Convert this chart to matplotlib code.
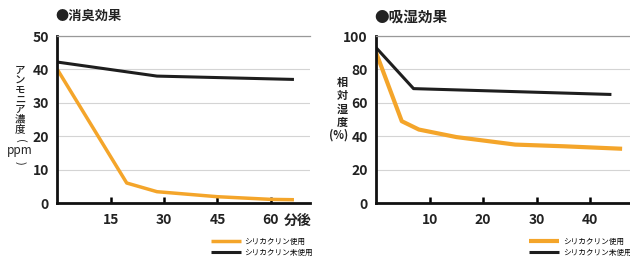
import matplotlib
matplotlib.use("Agg")
import matplotlib.pyplot as plt

plt.rcParams['font.family'] = ['Noto Sans CJK JP', 'DejaVu Sans']

# odor test (ammonia ppm vs minutes)
odor_t_used = [0, 19.5, 28, 45, 60, 66.5]
odor_used = [40, 6, 3.4, 1.9, 1.1, 1.0]
odor_t_unused = [0, 28, 66.5]
odor_unused = [42.2, 38, 37]
odor_xticks = [15, 30, 45, 60]
odor_yticks = [0, 10, 20, 30, 40, 50]

# humidity test (relative humidity % vs minutes)
hum_t_used = [0, 4.8, 8, 15, 26, 35, 46]
hum_used = [90, 49, 44, 39.5, 35, 34, 32.5]
hum_t_unused = [0, 7, 44]
hum_unused = [93, 68.5, 65]
hum_xticks = [10, 20, 30, 40]
hum_yticks = [0, 20, 40, 60, 80, 100]

label_used = 'シリカクリン使用'
label_unused = 'シリカクリン未使用'
orange = '#f4a52a'
black = '#1e1e1e'

fig = plt.figure(figsize=(6.3, 2.59), dpi=100)
ax1 = fig.add_axes([0.091, 0.216, 0.401, 0.645])
ax2 = fig.add_axes([0.597, 0.216, 0.41, 0.645])


def style(ax, xticks, yticks):
    ax.spines['right'].set_visible(False)
    ax.spines['top'].set_color('#999999')
    ax.spines['top'].set_linewidth(0.9)
    for s in ['left', 'bottom']:
        ax.spines[s].set_linewidth(2)
        ax.spines[s].set_color('#111111')
    ax.set_xticks(xticks)
    ax.set_yticks(yticks)
    ax.tick_params(axis='x', direction='in', length=4, width=1.8, pad=7)
    ax.tick_params(axis='y', length=0, pad=6)
    for lab in ax.get_xticklabels() + ax.get_yticklabels():
        lab.set_fontsize(10)
        lab.set_fontweight('bold')
        lab.set_color('#222222')
    ax.grid(axis='y', color='#d4d4d4', linewidth=0.8)
    ax.set_axisbelow(True)


ax1.plot(odor_t_unused, odor_unused, color=black, lw=2.2, label=label_unused, solid_capstyle='butt')
ax1.plot(odor_t_used, odor_used, color=orange, lw=2.5, label=label_used, solid_capstyle='butt')
ax1.set_xlim(0, 71)
ax1.set_ylim(0, 50)
style(ax1, odor_xticks, odor_yticks)
ax1.annotate('分後', xy=(67.5, 0), xycoords=('data', 'axes fraction'),
             xytext=(0, -8), textcoords='offset points', ha='center', va='top',
             fontsize=10, fontweight='bold', color='#222222')

ax2.plot(hum_t_unused, hum_unused, color=black, lw=2.2, label=label_unused, solid_capstyle='butt')
ax2.plot(hum_t_used, hum_used, color=orange, lw=3, label=label_used, solid_capstyle='butt')
ax2.set_xlim(0, 48.3)
ax2.set_ylim(0, 100)
style(ax2, hum_xticks, hum_yticks)

# titles
fig.text(0.088, 0.94, '●消臭効果', fontsize=9.5, fontweight='bold', va='center', color='#222222')
fig.text(0.594, 0.935, '●吸湿効果', fontsize=10.5, fontweight='bold', va='center', color='#222222')

# left y label (vertical writing, pieces stacked)
ylab_kw = dict(ha='center', va='center', color='#222222')
fig.text(0.032, 0.614, 'ア\nン\nモ\nニ\nア\n濃\n度', fontsize=7.5, fontweight='medium',
         linespacing=0.95, **ylab_kw)
fig.text(0.032, 0.458, '(', fontsize=8, rotation=-90, **ylab_kw)
fig.text(0.032, 0.417, 'ppm', fontsize=8.5, **ylab_kw)
fig.text(0.032, 0.372, ')', fontsize=8, rotation=-90, **ylab_kw)

# right y label
fig.text(0.543, 0.604, '相\n対\n湿\n度', fontsize=8, fontweight='bold', linespacing=1.05, **ylab_kw)
fig.text(0.537, 0.478, '(%)', fontsize=8, fontweight='bold', **ylab_kw)

# legends
for ax, x0 in [(ax1, 0.335), (ax2, 0.84)]:
    h, l = ax.get_legend_handles_labels()
    ax.legend(h[::-1], l[::-1], loc='center left', bbox_to_anchor=(x0, 0.045),
              bbox_transform=fig.transFigure, frameon=False, fontsize=5.5,
              handlelength=3.9, handletextpad=0.5, borderpad=0, borderaxespad=0,
              labelspacing=0.45)

fig.savefig('out.png', dpi=100, facecolor='white')
